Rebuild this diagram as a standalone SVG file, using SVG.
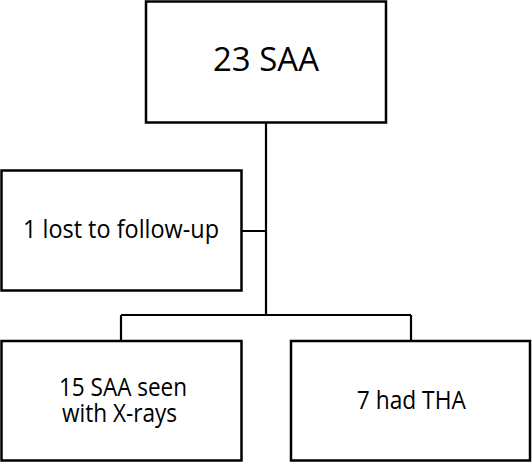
<svg xmlns="http://www.w3.org/2000/svg" width="532" height="462" viewBox="0 0 532 462">
<style>
.box{fill:#fff;stroke:#000;stroke-width:2.5}
.ln{fill:none;stroke:#000;stroke-width:2.2}
text{font-family:"Open Sans","Noto Sans",sans-serif;fill:#000;text-anchor:middle}
.big{font-size:32.5px}
.t{font-size:25px}
</style>
<rect width="532" height="462" fill="#fff"/>
<g id="connectors">
<path class="ln" d="M266 123V315M241 231H266M121 315H411M121 315V341M411 315V341"/>
</g>
<g id="n-top">
<rect class="box" x="146" y="1.5" width="240" height="121"/>
<text class="big" x="266" y="71" textLength="106" lengthAdjust="spacingAndGlyphs">23 SAA</text>
</g>
<g id="n-lost">
<rect class="box" x="1.5" y="170.5" width="240" height="120"/>
<text class="t" x="121" y="238" textLength="196" lengthAdjust="spacingAndGlyphs">1 lost to follow-up</text>
</g>
<g id="n-xray">
<rect class="box" x="1.5" y="341" width="240" height="119.5"/>
<text class="t" x="123" y="395.5" textLength="128" lengthAdjust="spacingAndGlyphs">15 SAA seen</text>
<text class="t" x="119.5" y="422" textLength="115" lengthAdjust="spacingAndGlyphs">with X-rays</text>
</g>
<g id="n-tha">
<rect class="box" x="291" y="341" width="239" height="119.5"/>
<text class="t" x="411.3" y="408.5" textLength="109" lengthAdjust="spacingAndGlyphs">7 had THA</text>
</g>
</svg>
